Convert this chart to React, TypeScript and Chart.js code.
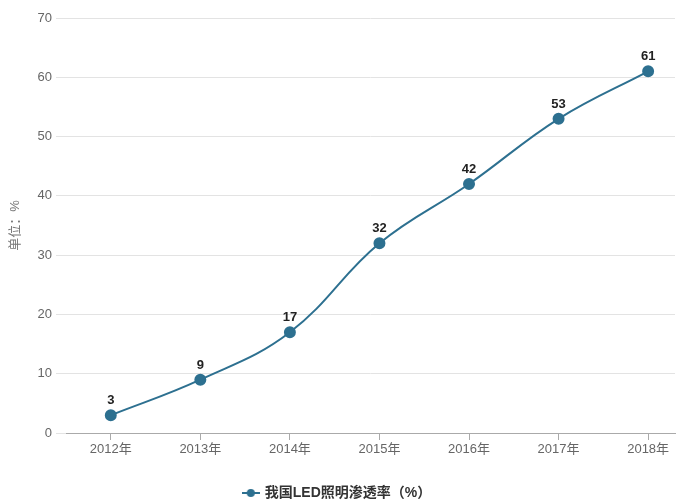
import { useEffect, useRef } from 'react';
import { Chart, registerables } from 'chart.js';

Chart.register(...registerables);

const years = ['2012年', '2013年', '2014年', '2015年', '2016年', '2017年', '2018年'];
const penetration = [3, 9, 17, 32, 42, 53, 61];
const seriesName = '我国LED照明渗透率（%）';

const lineColor = '#2d7090';
const fontFamily = '"Liberation Sans", "Noto Sans CJK SC", sans-serif';

// small line + dot marker for the legend
function legendMarker() {
  const c = document.createElement('canvas');
  c.width = 18;
  c.height = 10;
  const g = c.getContext('2d')!;
  g.strokeStyle = lineColor;
  g.lineWidth = 2;
  g.beginPath();
  g.moveTo(0, 5);
  g.lineTo(18, 5);
  g.stroke();
  g.fillStyle = lineColor;
  g.beginPath();
  g.arc(9, 5, 4, 0, Math.PI * 2);
  g.fill();
  return c;
}

const valueLabels = {
  id: 'valueLabels',
  afterDatasetsDraw(chart: Chart) {
    const ctx = chart.ctx;
    const meta = chart.getDatasetMeta(0);
    ctx.save();
    ctx.font = `bold 13px ${fontFamily}`;
    ctx.fillStyle = '#222';
    ctx.textAlign = 'center';
    ctx.textBaseline = 'bottom';
    meta.data.forEach((pt, i) => {
      ctx.fillText(String(penetration[i]), pt.x, pt.y - 8);
    });
    ctx.restore();
  },
};

export default function App() {
  const canvasRef = useRef<HTMLCanvasElement>(null);
  const chartRef = useRef<Chart | null>(null);

  useEffect(() => {
    if (!canvasRef.current) return;
    if (chartRef.current) chartRef.current.destroy();

    chartRef.current = new Chart(canvasRef.current, {
      type: 'line',
      data: {
        datasets: [
          {
            label: seriesName,
            data: penetration.map((v, i) => ({ x: i, y: v })),
            borderColor: lineColor,
            backgroundColor: lineColor,
            borderWidth: 2,
            pointRadius: 5,
            pointHoverRadius: 5,
            tension: 0.4,
          },
        ],
      },
      options: {
        animation: false,
        responsive: true,
        maintainAspectRatio: false,
        layout: { padding: { top: 18, right: 9, left: 0, bottom: -7 } },
        plugins: {
          tooltip: { enabled: false },
          legend: {
            position: 'bottom',
            labels: {
              usePointStyle: true,
              pointStyle: legendMarker(),
              color: '#333',
              font: { family: fontFamily, size: 14, weight: 'bold' },
              padding: 4,
            },
          },
        },
        scales: {
          x: {
            type: 'linear',
            min: -0.5,
            max: 6.3,
            afterFit: (s: any) => {
              s.height = 49;
            },
            afterBuildTicks: (s: any) => {
              s.ticks = years.map((_, i) => ({ value: i }));
            },
            ticks: {
              color: '#666',
              font: { family: fontFamily, size: 13 },
              callback: (v: any) => years[v] ?? '',
              padding: 2,
            },
            border: { color: '#aaa' },
            grid: {
              drawOnChartArea: false,
              drawTicks: true,
              tickLength: 7,
              color: '#aaa',
            },
          },
          y: {
            min: 0,
            max: 70,
            afterFit: (s: any) => {
              s.width = 66;
            },
            ticks: {
              stepSize: 10,
              color: '#666',
              font: { family: fontFamily, size: 13 },
              padding: 4,
            },
            border: { display: false },
            grid: { color: '#e3e3e3', tickLength: 10 },
            title: {
              display: true,
              text: '单位：%',
              color: '#777',
              font: { family: fontFamily, size: 13 },
              padding: { top: 8, bottom: 4 },
            },
          },
        },
      },
      plugins: [valueLabels],
    });

    return () => {
      if (chartRef.current) {
        chartRef.current.destroy();
        chartRef.current = null;
      }
    };
  }, []);

  return (
    <div style={{ position: 'fixed', left: 0, top: 0, width: 684, height: 503, background: '#fff' }}>
      <canvas ref={canvasRef} />
    </div>
  );
}
